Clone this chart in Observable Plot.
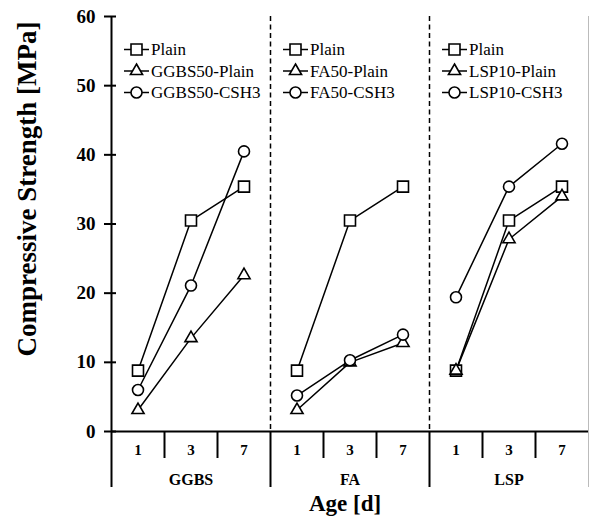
<!DOCTYPE html>
<html><head><meta charset="utf-8">
<script src="https://cdn.jsdelivr.net/npm/d3@7"></script>
<script src="https://cdn.jsdelivr.net/npm/@observablehq/plot@0.6"></script>
<style>body{margin:0;background:#fff}</style>
</head><body><div id="chart"></div>
<script>
// ---- data ----
const groups = ["GGBS", "FA", "LSP"];
const ages = ["1", "3", "7"];
const seriesNames = [
  ["Plain", "GGBS50-Plain", "GGBS50-CSH3"],
  ["Plain", "FA50-Plain", "FA50-CSH3"],
  ["Plain", "LSP10-Plain", "LSP10-CSH3"]
];
const symbols = ["square", "triangle", "circle"];
const plainValues = [8.8, 30.5, 35.4];
const ggbs50Plain = [3.1, 13.5, 22.6];
const ggbs50CSH3 = [6.0, 21.1, 40.5];
const fa50Plain = [3.1, 10.0, 12.8];
const fa50CSH3 = [5.2, 10.3, 14.0];
const lsp10Plain = [8.8, 27.8, 34.0];
const lsp10CSH3 = [19.4, 35.4, 41.6];
const yTicks = [0, 10, 20, 30, 40, 50, 60];

const valuesByGroup = [
  [plainValues, ggbs50Plain, ggbs50CSH3],
  [plainValues, fa50Plain, fa50CSH3],
  [plainValues, lsp10Plain, lsp10CSH3]
];

// table: categorical slot index -> position on a linear x scale
const rows = [];
groups.forEach((g, gi) => {
  valuesByGroup[gi].forEach((vals, si) => {
    vals.forEach((v, ai) => {
      rows.push({group: g, series: seriesNames[gi][si], key: g + "|" + si, symbol: symbols[si], x: gi * ages.length + ai + 0.5, y: v});
    });
  });
});
const nSlots = groups.length * ages.length;
const ageTicks = [], ageLabel = new Map();
groups.forEach((g, gi) => ages.forEach((a, ai) => { const p = gi * ages.length + ai + 0.5; ageTicks.push(p); ageLabel.set(p, a); }));
const groupTicks = [], groupLabel = new Map();
groups.forEach((g, gi) => { const p = gi * ages.length + ages.length / 2; groupTicks.push(p); groupLabel.set(p, g); });
const innerTicks = [], groupBounds = [];
groups.forEach((g, gi) => { groupBounds.push(gi * ages.length); for (let k = 1; k < ages.length; k++) innerTicks.push(gi * ages.length + k); });
const dashed = groupBounds.slice(1);

const symR = {square: 6.2, triangle: 4.5, circle: 5.5};
const serif = "'Liberation Serif', 'Times New Roman', serif";

const plot = Plot.plot({
  width: 589, height: 521,
  marginLeft: 111, marginRight: 1, marginTop: 16, marginBottom: 90,
  style: {fontFamily: serif, fontWeight: "bold", background: "white", color: "black"},
  x: {domain: [0, nSlots]},
  y: {domain: [0, 60]},
  marks: [
    Plot.ruleX(dashed, {stroke: "black", strokeWidth: 1.5, strokeDasharray: "5,3.5"}),
    Plot.ruleX([nSlots], {stroke: "#bbb", strokeWidth: 1}),
    Plot.axisX([nSlots], {tickSize: 56, tickFormat: () => "", stroke: "#bbb", strokeWidth: 1, label: null}),
    Plot.axisX(innerTicks, {tickSize: 27, tickFormat: () => "", strokeWidth: 2, label: null}),
    Plot.axisX(groupBounds, {tickSize: 56, tickFormat: () => "", strokeWidth: 2, label: null}),
    Plot.axisX(ageTicks, {tickSize: 0, tickPadding: 13, tickFormat: d => ageLabel.get(d), fontSize: 15, label: null}),
    Plot.axisX(groupTicks, {tickSize: 0, tickPadding: 42, tickFormat: d => groupLabel.get(d), fontSize: 16, label: null}),
    Plot.axisY(yTicks, {tickSize: 7, tickPadding: 9, strokeWidth: 2, fontSize: 19, label: null}),
    Plot.axisY(yTicks, {tickSize: -5, tickFormat: () => "", strokeWidth: 2, label: null}),
    Plot.ruleX([0], {stroke: "black", strokeWidth: 2}),
    Plot.ruleY([0], {stroke: "black", strokeWidth: 2}),
    Plot.line(rows, {x: "x", y: "y", z: "key", stroke: "black", strokeWidth: 1.5}),
    ...symbols.map(s => Plot.dot(rows.filter(d => d.symbol === s), {x: "x", y: "y", symbol: () => s, r: symR[s], fill: "white", stroke: "black", strokeWidth: 1.6})),
    Plot.text(["Compressive Strength [MPa]"], {text: d => d, frameAnchor: "left", textAnchor: "middle", lineAnchor: "middle", dx: -84, dy: -35, rotate: -90, fontSize: 27}),
    Plot.text(["Age [d]"], {text: d => d, frameAnchor: "bottom", textAnchor: "middle", lineAnchor: "middle", dx: -5, dy: 72, fontSize: 23})
  ]
});

// legends inside each panel, positioned via the plot's x scale
const sx = plot.scale("x");
const svg = d3.select(plot);
const legendTop = 16 + 33.5, legendStep = 21.5;
groups.forEach((g, gi) => {
  const x0 = sx.apply(gi * ages.length);
  seriesNames[gi].forEach((name, si) => {
    const y = legendTop + si * legendStep;
    const lg = svg.append("g");
    lg.append("line").attr("x1", x0 + 13).attr("x2", x0 + 38).attr("y1", y).attr("y2", y).attr("stroke", "black").attr("stroke-width", 1.5);
    const s = symbols[si];
    const sym = s === "square" ? d3.symbolSquare : s === "triangle" ? d3.symbolTriangle : d3.symbolCircle;
    lg.append("path").attr("d", d3.symbol(sym, Math.PI * symR[s] * symR[s])()).attr("transform", `translate(${x0 + 25.5},${y})`)
      .attr("fill", "white").attr("stroke", "black").attr("stroke-width", 1.6);
    lg.append("text").attr("x", x0 + 40).attr("y", y).attr("dy", "0.35em").attr("text-anchor", "start")
      .attr("font-size", 17).attr("font-weight", "normal")
      .attr("font-family", serif).attr("fill", "black").text(name);
  });
});

document.getElementById("chart").appendChild(plot);
</script>
</body></html>
